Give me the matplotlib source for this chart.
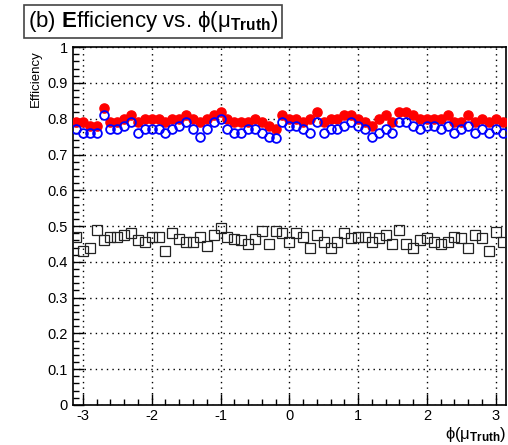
import numpy as np
import matplotlib
matplotlib.use("Agg")
import matplotlib.pyplot as plt
from matplotlib.ticker import MultipleLocator

plt.rcParams['font.family'] = ['Liberation Sans', 'DejaVu Sans']
plt.rcParams['mathtext.fontset'] = 'custom'
plt.rcParams['mathtext.rm'] = 'Liberation Sans'
plt.rcParams['mathtext.bf'] = 'Liberation Sans:bold'
plt.rcParams['mathtext.it'] = 'Liberation Sans'
plt.rcParams['axes.unicode_minus'] = False

# bin centres in phi
phi = np.round(np.arange(-3.1, 3.11, 0.1), 2)

# red filled circles
eff_red = [0.79, 0.79, 0.78, 0.78, 0.83, 0.79, 0.79, 0.80, 0.81, 0.79,
           0.80, 0.80, 0.80, 0.79, 0.80, 0.80, 0.81, 0.80, 0.79, 0.80,
           0.81, 0.82, 0.80, 0.79, 0.79, 0.79, 0.80, 0.79, 0.78, 0.77,
           0.81, 0.80, 0.80, 0.79, 0.80, 0.82, 0.79, 0.80, 0.80, 0.81,
           0.81, 0.80, 0.79, 0.78, 0.80, 0.81, 0.79, 0.82, 0.82, 0.81,
           0.80, 0.80, 0.80, 0.80, 0.81, 0.79, 0.79, 0.81, 0.79, 0.80,
           0.79, 0.80, 0.79]

# blue open circles
eff_blue = [0.77, 0.76, 0.76, 0.76, 0.81, 0.77, 0.77, 0.78, 0.79, 0.76,
            0.77, 0.77, 0.77, 0.76, 0.77, 0.78, 0.79, 0.77, 0.75, 0.77,
            0.79, 0.80, 0.77, 0.76, 0.76, 0.77, 0.77, 0.76, 0.75, 0.745,
            0.79, 0.78, 0.78, 0.77, 0.76, 0.79, 0.76, 0.77, 0.77, 0.78,
            0.79, 0.78, 0.77, 0.75, 0.76, 0.77, 0.76, 0.79, 0.79, 0.78,
            0.77, 0.78, 0.78, 0.77, 0.78, 0.76, 0.77, 0.78, 0.76, 0.77,
            0.76, 0.77, 0.76]

# black open squares
eff_black = [0.47, 0.43, 0.44, 0.49, 0.46, 0.47, 0.47, 0.475, 0.48, 0.46,
             0.455, 0.47, 0.47, 0.43, 0.48, 0.465, 0.455, 0.455, 0.47, 0.445,
             0.475, 0.495, 0.47, 0.465, 0.46, 0.45, 0.465, 0.485, 0.45, 0.485,
             0.48, 0.456, 0.48, 0.47, 0.44, 0.475, 0.455, 0.44, 0.456, 0.48,
             0.466, 0.47, 0.47, 0.456, 0.466, 0.475, 0.45, 0.49, 0.45, 0.44,
             0.46, 0.466, 0.456, 0.45, 0.456, 0.47, 0.466, 0.44, 0.475, 0.466,
             0.43, 0.484, 0.456]

fig = plt.figure(figsize=(5.08, 4.45), dpi=100)
ax = fig.add_axes([0.143, 0.09, 0.853, 0.804])

ax.plot(phi, eff_red, 'o', color='red', ms=6.6, mec='red', zorder=3)
ax.plot(phi, eff_blue, 'o', mfc='none', mec='blue', ms=6.3, mew=1.3, zorder=4)
ax.plot(phi, eff_black, 's', mfc='none', mec='#222222', ms=6.6, mew=0.9, zorder=3)

ax.set_xlim(-3.15, 3.15)
ax.set_ylim(0, 1)
ax.xaxis.set_major_locator(MultipleLocator(1))
ax.xaxis.set_minor_locator(MultipleLocator(0.2))
ax.yaxis.set_minor_locator(MultipleLocator(0.02))
ax.set_yticks(np.arange(0, 1.01, 0.1))
ax.set_yticklabels(['0', '0.1', '0.2', '0.3', '0.4', '0.5', '0.6', '0.7', '0.8', '0.9', '1'])
ax.tick_params(which='major', direction='in', length=8, width=1, labelsize=10.5, top=False, right=False)
ax.tick_params(which='minor', direction='in', length=4, width=1, top=False, right=False)
ax.tick_params(axis='x', pad=3)
ax.grid(True, which='major', linestyle=(0, (1, 3)), color='black', linewidth=1)
for s in ax.spines.values():
    s.set_linewidth(1.2)

fig.text(0.071, 0.888, 'Efficiency', rotation=90, ha='center', va='top', fontsize=9.5)
fig.text(0.996, 0.003, r'$\phi(\mu_{\mathbf{Truth}})$', ha='right', va='bottom', fontsize=12)

fig.text(0.055, 0.952, r'(b) $\mathbf{E}$fficiency vs. $\phi(\mu_{\mathbf{Truth}})$',
         ha='left', va='center', fontsize=16,
         bbox=dict(boxstyle='square,pad=0.18', fc='white', ec='#444444', lw=1.2))

fig.savefig('out.png', dpi=100)
